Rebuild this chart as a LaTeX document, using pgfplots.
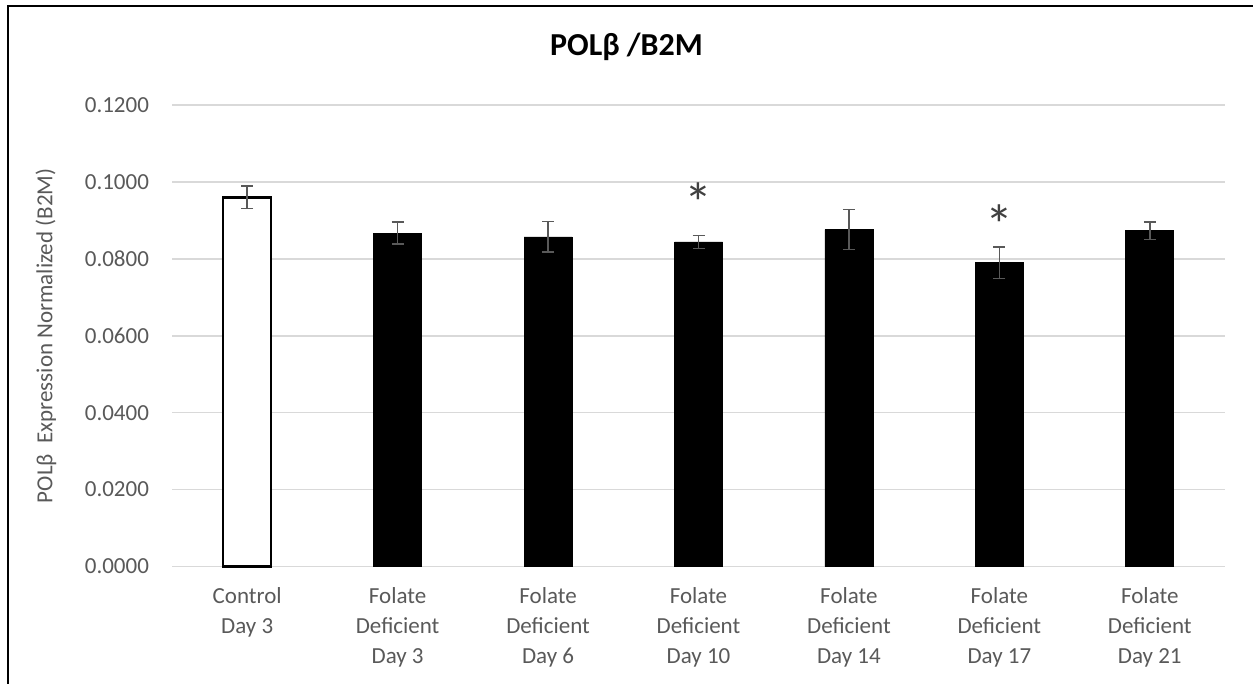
\documentclass[border=0pt]{standalone}
\usepackage{fontspec}
\setmainfont{Carlito}
\usepackage{pgfplots}
\pgfplotsset{compat=1.18}
\definecolor{tickgray}{HTML}{595959}
\definecolor{gridgray}{HTML}{D9D9D9}
\definecolor{stargray}{HTML}{404040}
\begin{document}
\begin{tikzpicture}
\useasboundingbox (0,0) rectangle (626.5pt,-342pt);
\draw[line width=1.2pt] (4pt,-342pt) -- (4pt,-3pt) -- (626.5pt,-3pt);
\node[font=\fontsize{16}{19}\selectfont\bfseries] at (313.25pt,-23.5pt) {POLβ /B2M};
\begin{axis}[
  at={(86pt,-283.25pt)}, anchor=south west,
  scale only axis, width=526.5pt, height=230.75pt,
  xmin=-0.5, xmax=6.5, ymin=0, ymax=0.12,
  ytick={0,0.02,0.04,0.06,0.08,0.1,0.12},
  xtick={0,1,2,3,4,5,6},
  xticklabels={{Control\\Day 3},{Folate\\Deficient\\Day 3},{Folate\\Deficient\\Day 6},{Folate\\Deficient\\Day 10},{Folate\\Deficient\\Day 14},{Folate\\Deficient\\Day 17},{Folate\\Deficient\\Day 21}},
  axis line style={draw=none},
  ymajorgrids, grid style={gridgray, line width=0.8pt},
  major tick length=0pt,
  /pgf/number format/assume math mode=true,
  yticklabel style={font=\fontsize{11.5}{14}\selectfont, text=tickgray, xshift=-8pt,
    /pgf/number format/fixed, /pgf/number format/fixed zerofill, /pgf/number format/precision=4},
  scaled y ticks=false,
  xticklabel style={font=\fontsize{11.5}{15}\selectfont, text=tickgray, align=center, yshift=-7pt},
  ylabel={POLβ\ \ Expression Normalized (B2M)},
  ylabel style={at={(axis description cs:-0.1197,0.5)}, anchor=center, font=\fontsize{11.5}{14}\selectfont, text=tickgray},
  clip=false,
]
\addplot[ybar, bar width=24pt, bar shift=0pt, fill=white, draw=black, line width=1.2pt,
  error bars/.cd, y dir=both, y explicit, error bar style={tickgray, line width=0.8pt}, error mark options={tickgray, line width=0.8pt, mark size=3pt, rotate=90}]
  table[x=x, y=y, y error=e] {
x y e
0 0.0960 0.0029
};
\addplot[ybar, bar width=24pt, bar shift=0pt, fill=black, draw=black, line width=0.4pt,
  error bars/.cd, y dir=both, y explicit, error bar style={tickgray, line width=0.8pt}, error mark options={tickgray, line width=0.8pt, mark size=3pt, rotate=90}]
  table[x=x, y=y, y error=e] {
x y e
1 0.0867 0.0029
2 0.0857 0.0040
3 0.0844 0.0017
4 0.0876 0.0052
5 0.0790 0.0041
6 0.0873 0.0023
};
\node[text=stargray, font=\fontsize{28}{28}\selectfont, yshift=-5pt] at (axis cs:3,0.0972) {*};
\node[text=stargray, font=\fontsize{28}{28}\selectfont, yshift=-5pt] at (axis cs:5,0.0915) {*};
\end{axis}
\end{tikzpicture}
\end{document}
